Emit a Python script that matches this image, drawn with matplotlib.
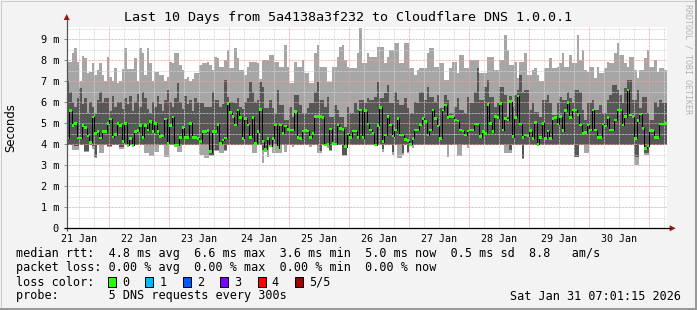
import matplotlib
matplotlib.use("Agg")
import matplotlib.pyplot as plt
import numpy as np
from matplotlib.patches import Rectangle, Polygon

# ---------------- data (ms), one value per hour, starting 21 Jan 07:00 ----------------
STEP_HOURS = 1
ping_max = [
    7.94, 7.94, 8.33, 8.57, 7.94, 7.0, 8.2, 8.1, 7.4, 7.46, 7.86, 7.3, 7.54, 7.86, 7.3, 7.0, 8.17, 7.22, 7.0, 7.62, 6.9, 7.0, 7.57, 8.57,
    7.57, 7.57, 7.57, 8.1, 7.0, 8.57, 8.33, 7.3, 8.57, 7.86, 7.0, 7.46, 7.46, 7.3, 7.3, 7.0, 7.2, 7.94, 7.86, 8.33, 8.33, 7.78, 7.54, 7.1,
    7.22, 7.0, 7.1, 7.38, 7.38, 7.78, 7.86, 7.86, 7.9, 7.78, 7.54, 8.17, 8.1, 7.7, 7.7, 8.0, 8.49, 7.62, 7.62, 8.57, 8.1, 7.54, 7.54, 7.3,
    7.7, 7.94, 7.94, 7.94, 7.86, 7.1, 8.0, 8.0, 8.0, 8.25, 8.25, 7.94, 7.94, 7.7, 7.7, 8.73, 7.7, 6.9, 6.9, 7.94, 7.7, 7.7, 8.0, 7.38,
    7.38, 6.9, 6.9, 8.33, 8.73, 7.7, 7.7, 7.7, 6.98, 6.98, 7.7, 7.7, 8.17, 8.65, 8.73, 8.0, 7.7, 7.62, 7.62, 7.62, 8.33, 9.52, 7.86, 7.86,
    8.33, 8.17, 8.17, 8.17, 8.65, 8.65, 8.65, 7.86, 8.17, 8.49, 8.49, 8.81, 8.81, 7.86, 7.86, 8.81, 8.81, 7.62, 7.62, 7.3, 7.54, 7.62, 7.62, 7.62,
    8.33, 8.57, 8.57, 7.7, 7.7, 7.86, 7.86, 7.06, 7.06, 7.62, 7.94, 7.94, 7.38, 8.25, 8.25, 7.62, 7.62, 8.0, 8.0, 8.0, 8.0, 7.38, 7.38, 7.38,
    8.17, 8.17, 8.17, 7.54, 7.54, 8.02, 8.02, 9.2, 8.49, 7.78, 7.78, 7.94, 7.14, 7.94, 7.94, 8.33, 7.3, 7.3, 7.54, 7.62, 7.3, 7.0, 7.0, 7.62,
    7.62, 8.1, 7.62, 7.62, 7.7, 7.86, 8.33, 7.7, 7.7, 8.25, 7.86, 7.86, 9.2, 8.02, 8.49, 7.54, 7.46, 7.7, 7.7, 7.14, 7.7, 7.38, 7.38, 7.62,
    7.94, 7.86, 7.86, 8.33, 8.81, 8.25, 8.25, 7.86, 7.7, 8.17, 8.17, 7.54, 7.14, 7.54, 7.54, 8.1, 8.49, 7.7, 7.7, 8.02, 7.46, 7.62, 7.62, 7.54,
]
ping_q4 = [
    7.0, 6.5, 6.0, 5.8, 6.2, 6.7, 5.9, 6.2, 5.5, 6.0, 5.8, 5.5, 6.1, 6.5, 6.0, 6.2, 6.2, 5.6, 6.3, 5.8, 6.0, 6.0, 5.7, 6.2,
    5.9, 6.3, 5.6, 6.0, 6.4, 5.8, 6.5, 6.2, 5.7, 5.5, 6.0, 5.8, 6.3, 5.9, 5.6, 6.1, 6.6, 6.0, 5.8, 6.2, 6.9, 6.0, 5.7, 6.3,
    5.9, 6.1, 5.6, 6.2, 6.0, 5.95, 5.95, 5.79, 5.79, 5.79, 6.5, 6.11, 6.11, 5.79, 5.9, 7.06, 6.27, 6.0, 6.0, 5.95, 6.2, 5.8, 5.7, 6.0,
    6.2, 6.98, 6.5, 6.0, 6.1, 6.98, 6.75, 5.71, 5.71, 6.11, 5.71, 5.48, 6.59, 5.87, 5.87, 5.16, 5.16, 5.79, 5.32, 6.35, 6.35, 5.87, 5.48, 5.48,
    5.71, 5.95, 5.95, 6.51, 6.98, 6.11, 6.11, 5.79, 6.27, 5.32, 5.32, 5.87, 5.63, 5.32, 5.32, 4.84, 5.79, 5.48, 5.48, 5.95, 5.63, 6.11, 6.11, 5.95,
    6.19, 6.11, 6.11, 6.27, 6.98, 6.19, 6.19, 6.43, 6.83, 5.95, 5.95, 6.51, 6.11, 5.87, 5.87, 6.19, 5.71, 5.48, 5.48, 6.03, 5.95, 6.51, 6.51, 6.11,
    6.75, 6.27, 6.27, 6.03, 6.35, 5.71, 5.71, 6.35, 6.11, 5.48, 5.48, 5.79, 6.19, 5.63, 5.63, 5.48, 6.27, 5.95, 5.95, 6.51, 7.62, 6.11, 6.11, 6.75,
    7.06, 6.27, 6.27, 5.79, 5.95, 6.75, 6.75, 6.35, 5.32, 6.3, 5.79, 6.35, 6.6, 7.3, 6.51, 6.59, 6.59, 5.63, 5.95, 5.55, 5.55, 5.32, 6.11, 6.11,
    6.35, 5.95, 5.4, 5.4, 5.95, 6.27, 6.11, 6.11, 6.51, 6.19, 5.95, 6.59, 6.59, 6.51, 5.63, 5.16, 5.95, 5.95, 6.11, 5.63, 5.63, 5.87, 5.48, 5.48,
    6.11, 6.35, 6.83, 6.83, 6.59, 6.35, 5.95, 6.67, 7.06, 7.06, 6.11, 6.11, 6.59, 5.71, 6.27, 6.27, 5.48, 5.16, 5.16, 6.03, 5.79, 6.11, 5.95, 5.95,
]
ping_median = [
    4.3, 5.6, 4.9, 5.0, 4.3, 4.3, 4.9, 4.8, 4.4, 4.1, 5.3, 4.5, 4.6, 4.3, 4.6, 4.6, 5.0, 5.2, 4.35, 4.45, 5.0, 4.9, 4.12, 5.0,
    3.97, 4.28, 3.97, 4.6, 4.65, 4.9, 4.33, 4.9, 4.68, 5.1, 4.6, 5.0, 4.6, 4.36, 4.39, 5.2, 4.05, 4.9, 5.3, 3.97, 3.97, 4.33, 4.8, 4.33,
    4.33, 5.0, 4.33, 4.33, 4.28, 4.13, 4.6, 4.6, 4.65, 3.65, 4.6, 4.6, 4.95, 4.05, 4.2, 4.3, 5.95, 5.5, 5.32, 4.92, 5.63, 5.28, 4.28, 5.24,
    4.92, 4.33, 5.28, 4.05, 4.6, 5.67, 4.13, 3.76, 4.29, 3.92, 4.29, 4.92, 3.84, 4.92, 4.52, 4.87, 4.71, 4.68, 4.68, 5.55, 4.32, 4.29, 4.63, 4.65,
    4.63, 4.33, 4.52, 5.32, 5.32, 5.32, 5.29, 3.97, 4.0, 4.73, 4.05, 4.02, 4.92, 4.76, 4.71, 3.89, 4.49, 4.33, 4.63, 4.63, 4.32, 5.63, 4.32, 5.6,
    4.97, 4.68, 4.52, 3.97, 4.9, 5.76, 4.13, 4.44, 5.32, 4.92, 4.4, 4.68, 5.24, 4.44, 4.44, 4.24, 4.17, 4.0, 4.29, 4.68, 4.68, 4.95, 5.24, 5.08,
    4.44, 4.68, 5.63, 5.24, 4.87, 4.29, 5.63, 5.87, 5.27, 5.32, 5.32, 5.16, 5.11, 4.68, 4.63, 4.44, 4.63, 4.68, 4.68, 4.97, 4.97, 4.36, 4.6, 4.52,
    5.9, 5.0, 4.6, 5.32, 5.27, 5.95, 4.68, 5.24, 5.16, 6.03, 4.36, 5.29, 6.3, 4.97, 4.33, 4.44, 4.4, 4.65, 4.29, 5.03, 4.0, 4.33, 5.0, 4.29,
    4.63, 4.29, 5.24, 5.29, 4.97, 5.32, 4.65, 5.6, 5.98, 5.29, 5.63, 5.63, 5.43, 4.92, 4.52, 4.55, 4.92, 4.68, 5.63, 4.68, 4.33, 4.33, 4.97, 4.87,
    5.27, 4.68, 4.68, 5.16, 5.63, 5.63, 4.92, 5.32, 6.59, 5.4, 5.32, 4.29, 5.13, 5.44, 4.76, 3.81, 3.92, 4.65, 4.65, 4.33, 4.33, 4.97, 4.97, 5.0,
]
ping_q2 = [
    3.97, 3.97, 3.95, 3.9, 3.9, 3.97, 3.97, 3.7, 3.7, 3.97, 3.9, 3.41, 3.97, 3.97, 3.97, 3.97, 3.9, 3.9, 3.97, 3.97, 3.97, 3.85, 3.85, 3.97,
    3.9, 3.97, 3.9, 3.97, 3.97, 3.97, 3.97, 3.97, 3.97, 3.97, 3.97, 3.95, 3.95, 3.97, 3.97, 3.97, 3.95, 3.97, 3.97, 3.9, 3.9, 3.97, 3.97, 3.97,
    3.97, 3.97, 3.97, 3.97, 3.97, 3.97, 3.97, 3.97, 3.97, 3.49, 3.49, 3.73, 3.73, 3.97, 3.97, 3.73, 3.97, 3.97, 3.97, 3.97, 3.97, 3.97, 3.97, 3.97,
    3.97, 3.97, 3.97, 3.95, 3.97, 3.97, 3.73, 3.7, 3.97, 3.88, 3.97, 3.97, 3.8, 3.97, 3.97, 3.97, 3.97, 3.97, 3.97, 3.97, 3.97, 3.97, 3.97, 3.97,
    3.97, 3.97, 3.97, 3.97, 3.97, 3.7, 3.97, 3.95, 3.95, 3.73, 3.97, 3.97, 3.97, 3.97, 3.49, 3.49, 3.97, 3.97, 3.97, 3.97, 3.97, 3.97, 3.97, 3.97,
    3.97, 3.97, 3.97, 3.95, 3.97, 3.97, 3.8, 3.97, 3.97, 3.97, 3.65, 3.97, 3.97, 3.97, 3.57, 3.97, 3.65, 3.95, 3.97, 3.97, 3.97, 3.97, 3.97, 3.97,
    3.97, 3.97, 3.97, 3.97, 3.97, 3.97, 3.97, 3.97, 3.97, 3.97, 3.97, 3.97, 3.97, 3.97, 3.97, 3.97, 3.97, 3.97, 3.97, 3.97, 3.97, 3.97, 3.97, 3.97,
    3.97, 3.97, 3.97, 3.97, 3.97, 3.97, 3.97, 3.97, 3.97, 3.73, 3.97, 3.97, 3.97, 3.97, 3.33, 3.97, 3.97, 3.97, 3.97, 3.97, 3.95, 3.97, 3.97, 3.97,
    3.97, 3.97, 3.97, 3.97, 3.97, 3.97, 3.97, 3.97, 3.97, 3.97, 3.97, 3.41, 3.41, 3.97, 3.97, 3.97, 3.97, 3.97, 3.97, 3.97, 3.97, 3.97, 3.97, 3.97,
    3.97, 3.97, 3.97, 3.97, 3.97, 3.97, 3.97, 3.97, 3.97, 3.97, 3.97, 3.41, 3.41, 3.97, 3.97, 3.57, 3.57, 3.97, 3.97, 3.97, 3.97, 3.97, 3.97, 3.97,
]
ping_min = [
    3.95, 3.95, 3.73, 3.73, 3.73, 3.95, 3.95, 3.65, 3.65, 3.95, 3.8, 3.35, 3.95, 3.57, 3.57, 3.95, 3.85, 3.85, 3.95, 3.95, 3.95, 3.8, 3.8, 3.95,
    3.85, 3.95, 3.85, 3.95, 3.95, 3.95, 3.95, 3.57, 3.57, 3.44, 3.44, 3.65, 3.65, 3.95, 3.95, 3.38, 3.38, 3.95, 3.95, 3.85, 3.65, 3.65, 3.95, 3.95,
    3.95, 3.95, 3.95, 3.95, 3.95, 3.49, 3.49, 3.33, 3.33, 3.45, 3.45, 3.7, 3.7, 3.57, 3.57, 3.7, 3.95, 3.95, 3.95, 3.95, 3.95, 3.95, 3.95, 3.95,
    3.95, 3.95, 3.57, 3.57, 3.95, 3.95, 3.1, 3.65, 3.41, 3.85, 3.57, 3.57, 3.6, 3.6, 3.95, 3.65, 3.95, 3.95, 3.89, 3.95, 3.95, 3.95, 3.95, 3.95,
    3.95, 3.89, 3.95, 3.95, 3.57, 3.57, 3.95, 3.9, 3.81, 3.7, 3.95, 3.95, 3.95, 3.95, 3.45, 3.45, 3.95, 3.95, 3.95, 3.95, 3.95, 3.95, 3.95, 3.95,
    3.95, 3.95, 3.95, 3.9, 3.95, 3.95, 3.65, 3.95, 3.95, 3.95, 3.49, 3.95, 3.33, 3.33, 3.5, 3.95, 3.6, 3.9, 3.81, 3.95, 3.95, 3.95, 3.95, 3.95,
    3.95, 3.95, 3.95, 3.95, 3.95, 3.95, 3.95, 3.95, 3.38, 3.95, 3.95, 3.95, 3.44, 3.44, 3.95, 3.95, 3.81, 3.95, 3.95, 3.95, 3.95, 3.95, 3.95, 3.95,
    3.95, 3.95, 3.95, 3.95, 3.95, 3.95, 3.95, 3.57, 3.57, 3.57, 3.95, 3.95, 3.95, 3.95, 3.3, 3.95, 3.95, 3.95, 3.95, 3.95, 3.9, 3.95, 3.95, 3.95,
    3.95, 3.95, 3.95, 3.95, 3.95, 3.95, 3.95, 3.95, 3.95, 3.95, 3.95, 3.4, 3.4, 3.95, 3.95, 3.57, 3.57, 3.95, 3.95, 3.95, 3.95, 3.95, 3.95, 3.95,
    3.95, 3.95, 3.95, 3.95, 3.95, 3.95, 3.95, 3.95, 3.95, 3.95, 3.95, 3.0, 3.0, 3.95, 3.95, 3.5, 3.5, 3.95, 3.95, 3.95, 3.95, 3.95, 3.95, 3.95,
]

y_ticks = [0, 1, 2, 3, 4, 5, 6, 7, 8, 9]
y_tick_labels = ["0", "1 m", "2 m", "3 m", "4 m", "5 m", "6 m", "7 m", "8 m", "9 m"]
day_labels = ["21 Jan", "22 Jan", "23 Jan", "24 Jan", "25 Jan", "26 Jan",
              "27 Jan", "28 Jan", "29 Jan", "30 Jan"]

title = "Last 10 Days from 5a4138a3f232 to Cloudflare DNS 1.0.0.1"
legend_rows = [
    "median rtt:  4.8 ms avg  6.6 ms max  3.6 ms min  5.0 ms now  0.5 ms sd  8.8   am/s",
    "packet loss: 0.00 % avg  0.00 % max  0.00 % min  0.00 % now",
    "loss color:",
    "probe:       5 DNS requests every 300s",
]
loss_labels = ["0", "1", "2", "3", "4", "5/5"]
loss_colors = ["#26ff00", "#00b8ff", "#0059ff", "#7e00ff", "#ff0000", "#a10000"]
stamp = "Sat Jan 31 07:01:15 2026"

# ---------------- figure ----------------
W, H = 697, 310
fig = plt.figure(figsize=(W / 100, H / 100), dpi=100)
fig.patch.set_facecolor("#f3f3f3")

X0, X1 = 66.7, 666.7
Y0, Y1 = 228.3, 26.7
ax = fig.add_axes([X0 / W, 1 - Y0 / H, (X1 - X0) / W, (Y0 - Y1) / H])
ax.set_facecolor("white")

t_start = 7 / 24 + 1 / 1440  # days since 21 Jan 00:00
n = len(ping_median)
t = t_start + np.arange(n + 1) * STEP_HOURS / 24.0


def ext(a):
    a = np.asarray(a, float)
    return np.append(a, a[-1])


ax.fill_between(t, ext(ping_min), ext(ping_max), step="post", color="#a6a6a6", lw=0, zorder=1)
ax.fill_between(t, ext(ping_q2), ext(ping_q4), step="post", color="#575757", lw=0, zorder=2)

dots = (0, (0.72, 0.72))
for v in np.arange(0.5, 9.6, 0.5):
    major = abs(v - round(v)) < 1e-6
    ax.axhline(v, color="#f0a0a0" if major else "#d4d4d4", lw=0.72, ls=dots, zorder=3)
for d in np.arange(0.25, 10.6, 0.25):
    if d <= t_start or d >= t_start + 10:
        continue
    major = abs(d - round(d)) < 1e-6
    ax.axvline(d, color="#f0a0a0" if major else "#d4d4d4", lw=0.72, ls=dots, zorder=3)

ax.step(t, ext(ping_median), where="post", color="black", lw=0.72, zorder=4)
ax.bar(t[:-1], 0.13, bottom=np.asarray(ping_median) - 0.065, width=STEP_HOURS / 24.0,
       align="edge", color="#26ff00", lw=0, zorder=5)

ax.set_xlim(t_start, t_start + 10)
ax.set_ylim(0, 9.6)
for s in ax.spines.values():
    s.set_visible(False)

ax.set_yticks(y_ticks)
ax.set_yticklabels(y_tick_labels, family="DejaVu Sans Mono", fontsize=7.4)
ax.tick_params(axis="y", length=2, width=0.7, color="#888888", pad=3.6)
ax.set_xticks(np.arange(len(day_labels)) + 0.5)
ax.set_xticklabels(day_labels, family="DejaVu Sans Mono", fontsize=7.2)
ax.tick_params(axis="x", length=0, pad=4.0)

# ---------------- overlay in pixel coordinates ----------------
ov = fig.add_axes([0, 0, 1, 1], zorder=10)
ov.set_xlim(0, W)
ov.set_ylim(H, 0)
ov.axis("off")
ov.patch.set_alpha(0)

# frame
ov.plot([0.5, W - 0.5], [0.5, 0.5], color="#cbcbcb", lw=0.72)
ov.plot([0.5, 0.5], [0.5, H - 0.5], color="#cbcbcb", lw=0.72)
ov.plot([W - 1, W - 1], [0, H], color="#999999", lw=1.44)
ov.plot([0, W], [H - 1, H - 1], color="#999999", lw=1.44)

# axes lines + arrows
ov.plot([X0, X0], [Y0 + 3, 19], color="#555555", lw=0.9, solid_capstyle="butt")
ov.plot([X0 - 3, X1 + 3], [Y0, Y0], color="black", lw=0.9, solid_capstyle="butt")
ov.add_patch(Polygon([[X0 - 3, 20], [X0 + 3, 20], [X0, 14]], closed=True, color="#a01010", lw=0))
ov.add_patch(Polygon([[X1 + 3, Y0 - 3], [X1 + 3, Y0 + 3], [X1 + 9, Y0]], closed=True,
                     color="#a01010", lw=0))

ov.text(348.5, 18, title, family="DejaVu Sans Mono", fontsize=9.6, ha="center", va="center")
ov.text(11, 127.5, "Seconds", family="DejaVu Sans", fontsize=8.4, rotation=90,
        ha="center", va="center")
ov.text(688, 4, "RRDTOOL / TOBI OETIKER", family="DejaVu Sans Mono", fontsize=6,
        rotation=-90, ha="center", va="top", color="#b4b4b4")

rows_y = [254, 268, 282, 296]
for ry, txt in zip(rows_y, legend_rows):
    ov.text(16, ry, txt, family="DejaVu Sans Mono", fontsize=8.5, ha="left", va="center")
ov.text(681, 296, stamp, family="DejaVu Sans Mono", fontsize=8.5, ha="right", va="center")

bx = 108.0
for lab, col in zip(loss_labels, loss_colors):
    ov.add_patch(Rectangle((bx, 277), 8, 10, facecolor=col, edgecolor="black", lw=0.72))
    ov.text(bx + 14, 282, lab, family="DejaVu Sans Mono", fontsize=8.5, ha="left", va="center")
    bx += 37.4

fig.savefig("out.png", dpi=100, facecolor=fig.get_facecolor())
